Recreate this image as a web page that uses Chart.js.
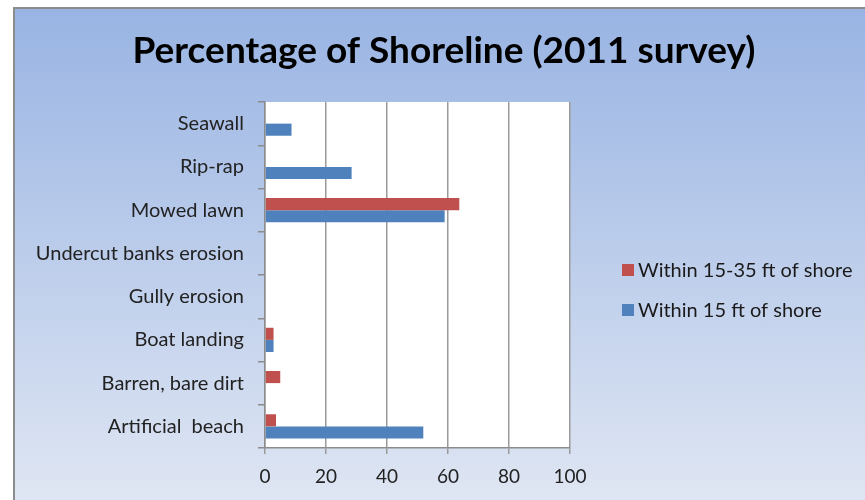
<!DOCTYPE html>
<html>
<head>
<meta charset="utf-8">
<script src="https://cdn.jsdelivr.net/npm/chart.js@4.4.0/dist/chart.umd.min.js"></script>
<style>
  body { margin: 0; background: #fff; }
  #frame {
    position: absolute; left: 13px; top: 7px;
    width: 852px; height: 493px;
    border-left: 2px solid #8c8c8c; border-top: 2px solid #8c8c8c;
    background: linear-gradient(to bottom, #99b4e3, #dfe6f3);
  }
  canvas { display: block; }
</style>
</head>
<body>
<div id="frame"><canvas id="chart" width="852" height="493"></canvas></div>
<script>
// Shoreline survey 2011, percent of shoreline per feature
const categories = ["Seawall", "Rip-rap", "Mowed lawn", "Undercut banks erosion",
  "Gully erosion", "Boat landing", "Barren, bare dirt", "Artificial  beach"];
const within15to35 = [0, 0, 63.7, 0, 0, 2.8, 5.0, 3.6];
const within15 = [8.7, 28.4, 58.9, 0, 0, 2.8, 0, 51.9];
const xTicks = [0, 20, 40, 60, 80, 100];

const FONT = "Lato";

// white plot area
const plotBg = {
  id: 'plotBg',
  beforeDraw(chart) {
    const { ctx, chartArea: a } = chart;
    ctx.save();
    ctx.fillStyle = '#fff';
    ctx.fillRect(a.left, a.top, a.right - a.left, a.bottom - a.top);
    ctx.restore();
  }
};

// title spans the whole canvas, not only the padded area
const wideTitle = {
  id: 'wideTitle',
  afterLayout(chart) {
    if (chart.titleBlock) {
      chart.titleBlock.left = 6;
      chart.titleBlock.right = chart.width;
      chart.titleBlock.width = chart.width - 6;
    }
  }
};

// legend stacked on the right
const sideLegend = {
  id: 'sideLegend',
  afterDraw(chart) {
    const ctx = chart.ctx;
    ctx.save();
    ctx.font = '20px ' + FONT;
    ctx.textBaseline = 'middle';
    chart.data.datasets.forEach((ds, i) => {
      const y = 261 + i * 40;
      ctx.fillStyle = ds.backgroundColor;
      ctx.fillRect(607, y - 6, 12, 12);
      ctx.fillStyle = '#1a1a1a';
      ctx.fillText(ds.label, 623, y + 1);
    });
    ctx.restore();
  }
};

new Chart(document.getElementById('chart'), {
  type: 'bar',
  data: {
    labels: categories,
    datasets: [
      { label: 'Within 15-35 ft of shore', data: within15to35, backgroundColor: '#c0504d' },
      { label: 'Within 15 ft of shore', data: within15, backgroundColor: '#4f81bd' }
    ]
  },
  options: {
    indexAxis: 'y',
    responsive: false,
    animation: false,
    barPercentage: 1,
    categoryPercentage: 0.56,
    layout: { padding: { left: 0, right: 297, top: 0, bottom: 0 } },
    plugins: {
      legend: { display: false },
      tooltip: { enabled: false },
      title: {
        display: true,
        text: 'Percentage of Shoreline (2011 survey)',
        color: '#000',
        font: { family: FONT, size: 37, weight: 'bold' },
        padding: { top: 20, bottom: 28.6 }
      }
    },
    scales: {
      x: {
        min: 0, max: 100,
        afterBuildTicks: s => { s.ticks = xTicks.map(v => ({ value: v })); },
        afterFit: s => { s.height = 54; },
        grid: { color: '#9a9a9a', lineWidth: 1.5, tickLength: 6 },
        border: { color: '#8c8c8c', width: 1.5 },
        ticks: { color: '#222', font: { family: FONT, size: 19 }, padding: 11 }
      },
      y: {
        afterFit: s => { s.width = 250; },
        grid: { offset: true, drawOnChartArea: false, tickLength: 7, color: '#8c8c8c', lineWidth: 1.5 },
        border: { color: '#8c8c8c', width: 1.5 },
        ticks: { color: '#222', font: { family: FONT, size: 20 }, padding: 14 }
      }
    }
  },
  plugins: [plotBg, wideTitle, sideLegend]
});
</script>
</body>
</html>
